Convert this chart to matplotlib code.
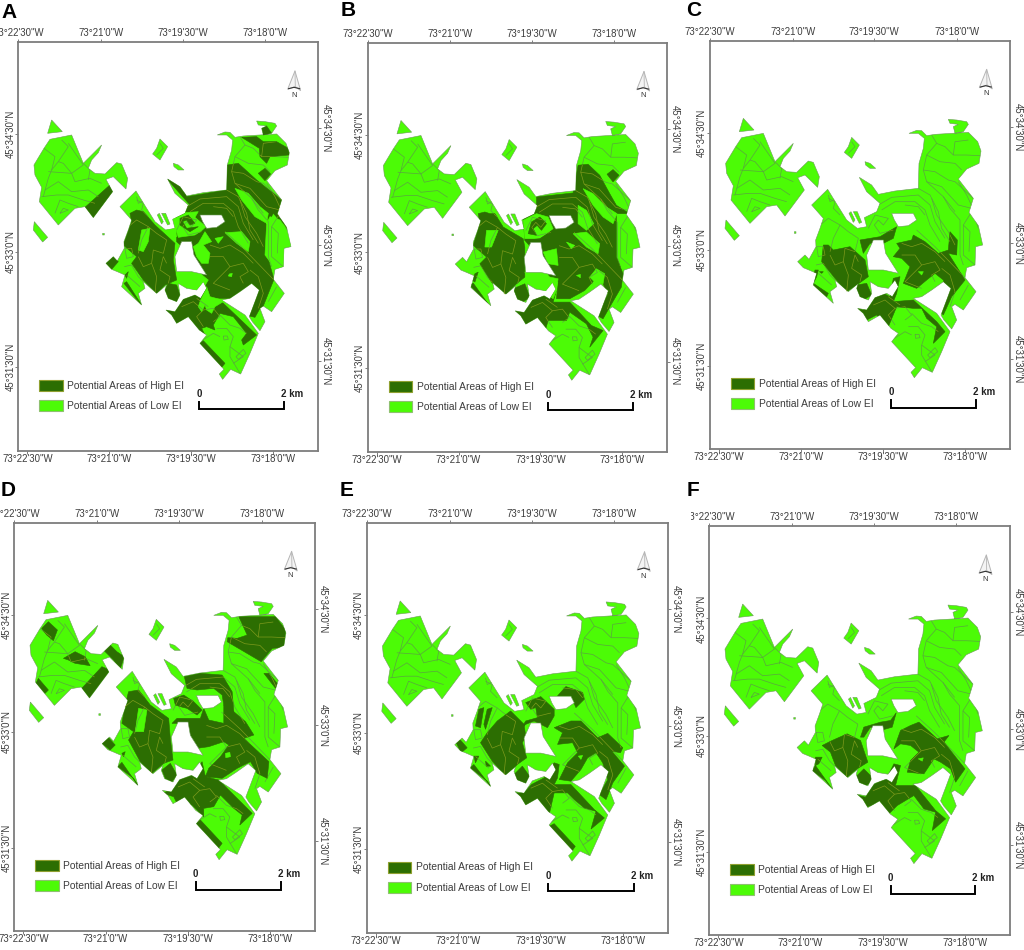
import matplotlib
matplotlib.use('Agg')
import matplotlib.pyplot as plt
from matplotlib.path import Path
from matplotlib.patches import PathPatch, Rectangle, Polygon
from matplotlib.collections import LineCollection
from matplotlib.transforms import Bbox

plt.rcParams['font.family'] = ['Liberation Sans', 'DejaVu Sans']

MAP_X = (55, 955)
MAP_Y = (1352, 127)
TOP_TICKS = [55, 303, 548, 795]
BOTTOM_TICKS = [82, 328, 574, 820]
LEFT_TICKS = [403, 755, 1102]
RIGHT_TICKS = [385, 735, 1082]
LON_LABELS = ['73°22\'30"W', '73°21\'0"W', '73°19\'30"W', '73°18\'0"W']
LAT_LABELS = ['45°34\'30"N', '45°33\'0"N', '45°31\'30"N']
LEGEND_LABELS = ['Potential Areas of High EI', 'Potential Areas of Low EI']
SCALE_LABELS = ['0', '2 km']

# forest parcels, same for all panels
BASE = [
    [(155, 360), (187, 395), (143, 400)],
    [(215, 405), (150, 418), (132, 445), (102, 495), (105, 525), (125, 562), (118, 605), (175, 675), (195, 655),
     (225, 625), (255, 620), (280, 653), (338, 575), (318, 538), (340, 530), (378, 567), (383, 535), (365, 492),
     (350, 488), (315, 522), (285, 520), (265, 505), (275, 480), (295, 458), (305, 435), (275, 465), (250, 490)],
    [(103, 665), (143, 712), (128, 726), (100, 690)],
    [(480, 417), (503, 440), (480, 480), (458, 462), (470, 445)],
    [(520, 490), (535, 495), (552, 510), (535, 510), (522, 500)],
    [(308, 700), (313, 700), (313, 705), (308, 705)],
    [(472, 645), (478, 640), (490, 665), (485, 672)],
    [(485, 640), (497, 640), (510, 672), (503, 675)],
    [(770, 363), (795, 365), (825, 370), (830, 378), (815, 400), (790, 405), (785, 385), (800, 378), (775, 375)],
    [(652, 405), (675, 396), (690, 397), (705, 412), (730, 408), (830, 402), (858, 430), (868, 458), (862, 495),
     (825, 512), (800, 542), (845, 600), (832, 642), (860, 682), (873, 740), (852, 745), (850, 800), (825, 808),
     (820, 838), (853, 880), (815, 935), (790, 918), (780, 925), (795, 965), (780, 992), (757, 965), (748, 950),
     (765, 905), (778, 870), (755, 850), (720, 875), (690, 895), (665, 900), (735, 945), (775, 1000), (750, 1060),
     (722, 1122), (692, 1108), (668, 1138), (658, 1122), (672, 1108), (600, 1030), (620, 1005), (598, 990),
     (565, 950), (530, 970), (515, 945), (498, 930), (525, 935), (550, 898), (585, 885), (602, 895), (620, 865),
     (610, 845), (590, 870), (560, 865), (535, 850), (540, 885), (530, 905), (505, 895), (495, 870), (500, 855),
     (470, 880), (430, 845), (435, 865), (415, 880), (425, 915), (365, 860), (375, 825), (352, 815), (335, 808),
     (318, 790), (340, 770), (352, 783), (373, 745), (372, 725), (385, 690), (395, 660), (360, 620), (408, 573),
     (440, 625), (465, 665), (497, 690), (525, 685), (518, 658), (555, 640), (565, 615), (525, 580), (503, 537),
     (540, 560), (560, 588), (610, 578), (680, 570), (682, 495), (695, 450), (698, 420), (680, 405)],
]
HOLES = [
    [(545, 725), (575, 725), (582, 765), (620, 825), (575, 815), (530, 815), (525, 770)],
    [(600, 645), (665, 645), (675, 665), (650, 682), (620, 685), (608, 665)],
]
BOUNDARIES = [
    [(132, 445), (165, 470), (155, 510), (145, 535), (130, 590)],
    [(185, 420), (205, 440), (175, 485), (155, 510)],
    [(205, 430), (250, 495), (215, 520), (190, 490), (175, 485)],
    [(145, 515), (215, 520), (225, 545), (270, 535), (305, 550)],
    [(135, 570), (175, 545), (215, 575), (265, 570), (295, 590)],
    [(125, 590), (170, 585), (205, 585), (250, 600), (285, 610)],
    [(165, 640), (180, 600), (205, 610), (235, 620)],
    [(180, 640), (205, 630), (190, 625), (180, 640)],
    [(250, 490), (270, 510), (265, 540)],
    [(480, 430), (490, 445), (470, 465)],
    [(720, 410), (735, 435), (705, 470), (695, 515), (705, 550), (755, 595), (790, 640)],
    [(735, 435), (760, 445), (785, 470), (790, 430), (830, 425)],
    [(785, 470), (825, 470), (866, 472)],
    [(705, 470), (745, 490), (790, 495), (810, 515)],
    [(695, 515), (730, 520), (770, 545), (790, 550), (845, 600)],
    [(705, 550), (750, 565), (800, 620), (840, 630), (860, 690)],
    [(755, 595), (775, 630), (805, 665), (805, 770), (815, 800)],
    [(720, 600), (735, 650), (770, 700), (790, 740)],
    [(680, 570), (715, 590), (740, 640), (750, 690), (775, 730)],
    [(840, 640), (815, 680), (815, 770), (850, 800)],
    [(815, 680), (835, 700), (832, 760)],
    [(800, 550), (825, 590), (840, 622)],
    [(560, 620), (600, 597), (680, 590), (715, 620), (730, 670), (760, 720)],
    [(570, 635), (610, 610), (670, 610), (700, 635), (715, 680), (745, 730)],
    [(640, 620), (680, 625), (700, 650)],
    [(675, 695), (730, 745), (820, 838)],
    [(630, 735), (660, 745), (690, 735), (730, 760), (760, 790)],
    [(630, 770), (670, 770), (690, 800), (660, 830), (640, 850), (690, 870)],
    [(690, 800), (730, 790), (745, 815), (720, 830), (730, 850)],
    [(750, 810), (775, 830), (790, 880), (775, 925)],
    [(805, 905), (830, 860)],
    [(530, 690), (550, 650), (590, 660), (575, 680), (560, 665), (548, 680), (565, 705), (605, 695)],
    [(385, 680), (410, 660), (445, 680), (425, 720), (415, 760)],
    [(445, 680), (470, 700), (500, 720), (490, 760), (460, 750), (455, 790), (430, 800), (415, 770)],
    [(455, 790), (470, 830), (465, 880)],
    [(500, 790), (490, 770), (480, 810), (510, 830), (505, 850)],
    [(410, 600), (430, 610), (425, 630), (445, 650)],
    [(410, 590), (415, 610), (435, 600)],
    [(375, 745), (395, 745), (400, 770), (380, 775), (375, 745)],
    [(373, 800), (395, 795), (415, 830), (430, 845)],
    [(380, 825), (420, 860)],
    [(545, 920), (580, 905), (610, 930), (590, 950), (610, 980)],
    [(610, 930), (640, 925), (660, 950), (640, 965)],
    [(590, 895), (625, 920)],
    [(600, 1025), (640, 1000), (660, 1010)],
    [(650, 985), (680, 985), (700, 1010), (690, 1040), (730, 1070), (700, 1090)],
    [(670, 1008), (682, 1008), (685, 1018), (672, 1020), (670, 1008)],
    [(708, 1070), (730, 1048), (738, 1060), (715, 1078), (708, 1070)],
    [(690, 1040), (690, 1070), (720, 1120)],
    [(660, 945), (690, 975), (720, 985), (740, 1000)],
]

# panel polygons are traced in the coordinates of each panel's own crop
HIGH_A = [
    [(332, 553), (340, 575), (280, 653), (255, 622)],
    [(725, 412), (770, 410), (790, 425), (830, 425), (865, 445), (868, 465), (810, 470), (800, 490), (780, 470),
     (778, 445)],
    [(775, 520), (795, 505), (812, 522), (795, 542)],
    [(785, 380), (800, 378), (815, 400), (790, 405)],
    [(495, 530), (545, 552), (560, 590), (680, 570), (682, 495), (715, 490), (770, 540), (845, 600), (835, 640),
     (860, 685), (820, 640), (803, 670), (803, 770), (822, 838), (790, 918), (780, 925), (765, 952), (748, 948),
     (778, 870), (755, 850), (690, 895), (628, 895), (610, 830), (580, 770), (530, 725), (530, 640), (570, 615)],
    [(390, 640), (410, 630), (430, 635), (465, 675), (525, 730), (520, 780), (530, 840), (495, 855), (470, 880),
     (430, 840), (395, 790), (410, 770), (370, 735), (395, 665)],
    [(495, 870), (505, 850), (530, 855), (540, 885), (530, 905), (505, 895)],
    [(340, 770), (355, 785), (335, 808), (318, 790)],
    [(372, 850), (380, 845), (425, 915), (405, 892)],
    [(375, 825), (385, 815), (380, 835)],
    [(498, 930), (525, 935), (550, 898), (585, 885), (602, 895), (618, 865), (628, 895), (665, 905), (770, 1005),
     (730, 1035), (725, 1020), (740, 1000), (700, 950), (660, 940), (640, 975), (645, 990), (620, 980), (605, 985),
     (615, 1005), (598, 990), (565, 950), (530, 970), (515, 945)],
    [(600, 1030), (610, 1022), (675, 1090), (660, 1108)],
]
LOW_A = [
    [(705, 565), (745, 580), (780, 620), (805, 640), (800, 670), (765, 650), (725, 600)],
    [(675, 698), (725, 695), (750, 725), (745, 755), (710, 730)],
    [(415, 750), (425, 690), (450, 685), (445, 725), (430, 755)],
    [(495, 680), (525, 685), (530, 710), (515, 715)],
    [(520, 655), (555, 638), (595, 635), (585, 652), (618, 680), (605, 692), (585, 705), (535, 712), (525, 680)],
    [(580, 740), (595, 730), (615, 695), (635, 725), (610, 735), (630, 760), (625, 790), (605, 790), (590, 770)],
    [(645, 715), (670, 710), (655, 730)],
    [(530, 810), (570, 820), (600, 820), (625, 840), (610, 865), (595, 875), (560, 860), (535, 850)],
    [(688, 822), (697, 820), (695, 830), (685, 828)],
    [(620, 860), (630, 890), (675, 902), (645, 920), (635, 940), (620, 930), (615, 915), (605, 935), (595, 920),
     (600, 905)],
    [(810, 650), (840, 660), (855, 680), (872, 735), (850, 742), (850, 800), (825, 805), (795, 765), (800, 670)],
]
TOP_A = [
    [(540, 655), (565, 645), (585, 670), (570, 675), (560, 660), (548, 665), (560, 685), (595, 680), (570, 695),
     (540, 675)],
]
HIGH_B = [
    [(802, 522), (820, 508), (838, 525), (820, 545)],
    [(590, 590), (700, 578), (715, 495), (745, 492), (780, 525), (810, 580), (830, 615), (870, 640), (830, 640),
     (830, 770), (850, 820), (845, 860), (810, 920), (790, 955), (772, 945), (805, 880), (790, 850), (765, 838),
     (735, 870), (690, 895), (650, 895), (655, 845), (630, 830), (600, 770), (555, 720), (550, 655), (590, 625)],
    [(415, 640), (435, 635), (450, 640), (465, 640), (490, 680), (550, 715), (555, 740), (555, 830), (530, 850),
     (495, 885), (455, 845), (420, 790), (440, 770), (400, 735), (420, 670)],
    [(520, 865), (555, 850), (570, 890), (545, 908), (530, 895)],
    [(390, 855), (400, 848), (448, 915), (440, 905)],
    [(405, 820), (415, 815), (405, 845), (398, 840)],
    [(522, 932), (550, 935), (575, 900), (610, 885), (630, 895), (650, 870), (640, 905), (690, 905), (755, 975),
     (790, 990), (750, 1040), (760, 1010), (740, 970), (690, 935), (680, 960), (625, 960), (615, 995), (575, 970),
     (550, 975)],
]
LOW_B = [
    [(730, 565), (760, 580), (800, 620), (832, 640), (820, 670), (790, 650), (760, 615)],
    [(715, 615), (740, 630), (762, 670), (740, 690), (715, 670)],
    [(700, 700), (740, 695), (780, 730), (775, 760), (740, 740)],
    [(440, 690), (475, 690), (455, 740), (435, 740)],
    [(550, 660), (590, 640), (625, 650), (640, 685), (600, 715), (555, 715)],
    [(610, 755), (650, 745), (655, 795), (625, 790)],
    [(555, 815), (605, 815), (630, 830), (655, 835), (650, 870), (640, 895), (610, 870), (570, 845)],
    [(750, 830), (770, 805), (795, 820), (790, 850), (765, 845)],
    [(680, 725), (705, 735), (695, 745)],
    [(710, 825), (722, 822), (722, 832)],
]
TOP_B = [
    [(575, 665), (600, 650), (620, 670), (605, 690), (592, 675), (580, 685), (590, 705), (565, 700)],
    [(555, 720), (600, 715), (640, 690), (645, 720), (610, 745), (580, 725)],
]
HIGH_C = [
    [(540, 720), (600, 710), (650, 680), (640, 715), (600, 735), (570, 730), (550, 760)],
    [(430, 735), (445, 735), (460, 750), (510, 740), (555, 780), (565, 830), (530, 855), (500, 875), (465, 835),
     (425, 785)],
    [(530, 855), (560, 850), (575, 885), (550, 900), (530, 885)],
    [(405, 810), (415, 810), (410, 830), (400, 850), (445, 880), (440, 890), (395, 855)],
    [(418, 815), (430, 815), (425, 820)],
    [(530, 925), (550, 930), (575, 895), (610, 880), (630, 890), (640, 835), (660, 830), (650, 880), (640, 905),
     (700, 900), (770, 965), (795, 995), (760, 1030), (770, 980), (740, 955), (725, 925), (700, 925), (650, 920),
     (625, 980), (590, 945), (550, 965)],
    [(650, 730), (695, 720), (700, 705), (735, 725), (775, 760), (805, 750), (810, 695), (832, 720), (830, 765),
     (805, 760), (855, 840), (815, 890), (790, 945), (780, 935), (800, 885), (790, 840), (765, 820), (740, 840),
     (710, 865), (670, 850), (690, 800), (665, 775), (640, 770), (660, 745)],
]
LOW_C = [
    [(715, 815), (730, 815), (725, 825)],
]
HIGH_D = [
    [(125, 460), (145, 440), (172, 465), (160, 497), (140, 480)],
    [(190, 550), (225, 530), (255, 545), (270, 572), (225, 565), (205, 555)],
    [(305, 520), (330, 510), (350, 530), (372, 545), (360, 582), (340, 555)],
    [(305, 575), (330, 585), (268, 668), (245, 640)],
    [(108, 625), (115, 610), (145, 645), (135, 655)],
    [(715, 425), (825, 425), (855, 465), (850, 517), (815, 520), (782, 560), (680, 500), (682, 488), (710, 490),
     (740, 480)],
    [(790, 595), (805, 595), (830, 625), (825, 640)],
    [(552, 605), (600, 595), (665, 600), (695, 650), (700, 710), (670, 690), (665, 660), (640, 640), (590, 645),
     (560, 640)],
    [(515, 745), (530, 730), (600, 730), (610, 700), (625, 735), (670, 745), (670, 690), (700, 710), (735, 740),
     (760, 780), (730, 790), (805, 860), (800, 910), (770, 895), (750, 860), (710, 880), (665, 910), (615, 905),
     (625, 880), (660, 845), (685, 810), (670, 800), (625, 815), (590, 820), (565, 770), (550, 745)],
    [(520, 670), (550, 660), (580, 680), (605, 705), (590, 720), (560, 700), (540, 695), (525, 690)],
    [(385, 650), (415, 645), (450, 690), (505, 730), (510, 790), (518, 855), (490, 865), (455, 895), (420, 860),
     (385, 795), (400, 770), (365, 745), (375, 690)],
    [(485, 885), (510, 865), (530, 900), (515, 920), (495, 910)],
    [(305, 805), (325, 788), (345, 810), (330, 825)],
    [(353, 875), (365, 862), (412, 930), (400, 910)],
    [(365, 835), (375, 830), (370, 845)],
    [(487, 955), (510, 945), (535, 915), (580, 900), (605, 860), (615, 905), (655, 915), (725, 985), (755, 1015),
     (718, 1050), (725, 1020), (700, 1000), (660, 960), (640, 995), (610, 1000), (610, 1025), (575, 990), (530, 985),
     (520, 965)],
    [(587, 1045), (600, 1035), (665, 1105), (650, 1125)],
]
LOW_D = [
    [(415, 700), (440, 705), (430, 770), (405, 770)],
    [(675, 835), (688, 832), (690, 845), (676, 848)],
]
HIGH_E = [
    [(405, 750), (415, 700), (430, 695), (420, 755)],
    [(440, 700), (455, 695), (435, 760), (430, 745)],
    [(470, 735), (510, 705), (550, 745), (555, 780), (545, 800), (558, 845), (530, 865), (495, 900), (455, 855),
     (420, 800), (440, 770)],
    [(520, 895), (545, 870), (570, 905), (555, 925), (535, 920)],
    [(345, 795), (360, 792), (380, 815), (362, 830)],
    [(390, 875), (400, 865), (450, 930), (440, 915)],
    [(400, 840), (415, 840), (405, 860)],
    [(435, 855), (450, 870), (437, 870)],
    [(525, 950), (550, 950), (572, 925), (610, 905), (640, 860), (655, 865), (650, 905), (640, 925), (690, 925),
     (760, 1000), (790, 1025), (750, 1058), (765, 1005), (730, 995), (700, 970), (680, 950), (640, 950), (625, 1015),
     (590, 985), (550, 990)],
    [(625, 1050), (640, 1042), (703, 1110), (690, 1128)],
    [(555, 680), (600, 662), (640, 700), (640, 720), (620, 755), (580, 735), (555, 745), (540, 760), (555, 735),
     (590, 725), (585, 695), (570, 700)],
    [(650, 660), (675, 632), (725, 650), (730, 670), (705, 695), (690, 660)],
    [(640, 755), (690, 735), (720, 735), (770, 785), (800, 772), (845, 815), (838, 830), (812, 825), (850, 870),
     (815, 920), (795, 970), (775, 955), (800, 910), (785, 860), (765, 830), (740, 845), (720, 880), (690, 915),
     (655, 910), (680, 860), (710, 830), (695, 800), (650, 805), (665, 770)],
]
LOW_E = [
    [(712, 840), (725, 838), (720, 850)],
]
HIGH_F = [
    [(530, 785), (540, 755), (590, 740), (620, 735), (637, 712), (625, 755), (590, 765), (560, 755), (540, 785)],
    [(415, 810), (445, 795), (490, 775), (530, 795), (552, 860), (520, 880), (490, 905), (455, 870), (440, 830)],
    [(515, 905), (540, 880), (565, 905), (555, 925), (535, 935)],
    [(395, 845), (415, 845), (405, 865), (395, 870)],
    [(385, 885), (395, 870), (445, 940), (425, 915)],
    [(518, 958), (545, 965), (565, 930), (610, 905), (630, 865), (650, 870), (635, 930), (695, 930), (755, 1005),
     (785, 1030), (745, 1065), (755, 1010), (720, 1000), (690, 960), (640, 990), (615, 1015), (580, 985), (545, 995)],
    [(630, 820), (650, 765), (680, 750), (705, 740), (760, 790), (795, 780), (780, 800), (843, 880), (815, 920),
     (800, 880), (770, 860), (750, 850), (720, 895), (670, 890), (680, 855), (705, 830), (680, 810), (650, 805)],
]
LOW_F = [
    [(703, 850), (718, 847), (715, 857)],
]

HIGH_COLOR = '#2c6e02'
LOW_COLOR = '#4cfb06'
LINE_LOW = '#5aa540'
LINE_HIGH = '#7d9a1c'
FRAME = '#7d7d7d'
TEXT = '#3c3c3c'
TICK_SIZE = 6.9


def to_path(polys):
    verts = []
    codes = []
    for poly in polys:
        # same winding everywhere or overlaps would cancel when clipping
        area = sum(poly[i][0] * poly[(i + 1) % len(poly)][1] - poly[(i + 1) % len(poly)][0] * poly[i][1]
                   for i in range(len(poly)))
        pts = poly if area > 0 else poly[::-1]
        verts += list(pts) + [pts[0]]
        codes += [Path.MOVETO] + [Path.LINETO] * (len(pts) - 1) + [Path.CLOSEPOLY]
    return Path(verts, codes)


def shift(polys, origin):
    # crop coordinates -> map units of panel A
    dx = origin[0] - MAP_X[0]
    dy = origin[1] - MAP_Y[1]
    return [[(x - dx, y - dy) for x, y in p] for p in polys]


def add_layer(ax, polys, face, line, base_path, edge):
    path = to_path(polys)
    patch = PathPatch(path, facecolor=face, edgecolor=edge, linewidth=0.4, zorder=2)
    ax.add_patch(patch)
    if base_path is not None:
        patch.set_clip_path(base_path, ax.transData)
    lc = LineCollection(BOUNDARIES, colors=line, linewidths=0.5, zorder=2)
    ax.add_collection(lc)
    lc.set_clip_path(path, ax.transData)


def draw_panel(fig, letter, box, origin, high, low, top, letter_xy, clip_left=None):
    x0, y0, x1, y1 = box
    ax = fig.add_axes([x0 / 1024, 1 - y1 / 950, (x1 - x0) / 1024, (y1 - y0) / 950])
    ax.set_xlim(MAP_X)
    ax.set_ylim(MAP_Y)
    for s in ax.spines.values():
        s.set_color(FRAME)
        s.set_linewidth(1.3)

    base_path = to_path(BASE)
    add_layer(ax, BASE, LOW_COLOR, LINE_LOW, None, '#6d9a5a')
    add_layer(ax, shift(high, origin), HIGH_COLOR, LINE_HIGH, base_path, HIGH_COLOR)
    if low:
        add_layer(ax, shift(low, origin), LOW_COLOR, LINE_LOW, base_path, LOW_COLOR)
    if top:
        add_layer(ax, shift(top, origin), HIGH_COLOR, LINE_HIGH, base_path, HIGH_COLOR)
    for hole in HOLES:
        ax.add_patch(Polygon(hole, facecolor='white', edgecolor='#6d9a5a', linewidth=0.4, zorder=3))

    # graticule ticks, the grid is tilted so the four sides differ
    ax.set_xticks(BOTTOM_TICKS, LON_LABELS)
    ax.set_yticks(LEFT_TICKS, LAT_LABELS)
    ax.tick_params(axis='x', length=2, width=0.7, color=FRAME, labelsize=TICK_SIZE, labelcolor=TEXT, pad=0.5)
    ax.tick_params(axis='y', length=2, width=0.7, color=FRAME, labelsize=TICK_SIZE, labelcolor=TEXT, pad=0)
    for t in ax.get_yticklabels():
        t.set_rotation(90)
        t.set_va('center')
    topax = ax.secondary_xaxis('top')
    topax.set_xticks(TOP_TICKS, LON_LABELS)
    topax.tick_params(length=2, width=0.7, color=FRAME, labelsize=TICK_SIZE, labelcolor=TEXT, pad=1)
    rightax = ax.secondary_yaxis('right')
    rightax.set_yticks(RIGHT_TICKS, LAT_LABELS)
    rightax.tick_params(length=2, width=0.7, color=FRAME, labelsize=TICK_SIZE, labelcolor=TEXT, pad=0)
    for t in rightax.get_yticklabels():
        t.set_rotation(-90)
        t.set_va('center')
    for side in (topax, rightax):
        for s in side.spines.values():
            s.set_visible(False)
    if clip_left is not None:
        # the first label is cut by the neighbouring panel's crop
        lab = topax.get_xticklabels()[0]
        lab.set_clip_box(Bbox([[clip_left, 0], [1024, 950]]))
        lab.set_clip_on(True)

    # legend
    ax.add_patch(Rectangle((118, 1140), 70, 33, facecolor=HIGH_COLOR, edgecolor='#8fa030', linewidth=0.8, zorder=3))
    ax.add_patch(Rectangle((118, 1199), 70, 34, facecolor=LOW_COLOR, edgecolor='#8fc070', linewidth=0.8, zorder=3))
    ax.text(202, 1157, LEGEND_LABELS[0], fontsize=7.35, color=TEXT, va='center', ha='left')
    ax.text(202, 1217, LEGEND_LABELS[1], fontsize=7.35, color=TEXT, va='center', ha='left')

    # scale bar
    ax.plot([598, 598, 852, 852], [1205, 1228, 1228, 1205], color='black', linewidth=1.4, solid_joinstyle='miter')
    ax.text(598, 1181, SCALE_LABELS[0], fontsize=7, fontweight='bold', color='#222222', ha='center', va='center')
    ax.text(843, 1181, SCALE_LABELS[1], fontsize=7, fontweight='bold', color='#222222', ha='left', va='center')

    # north arrow
    ax.add_patch(Polygon([(885, 213), (863, 268), (886, 260), (902, 272)], facecolor='#f4f4f4', edgecolor='#b5b5b5',
                         linewidth=0.7))
    ax.plot([885, 886], [213, 260], color='#b5b5b5', linewidth=0.6)
    ax.plot([866, 882, 899], [266, 262, 266], color='#333333', linewidth=0.8)
    ax.text(882, 286, 'N', fontsize=5.5, color='#333333', ha='center', va='center')

    fig.text(letter_xy[0] / 1024, 1 - letter_xy[1] / 950, letter, fontsize=15, fontweight='bold', color='black',
             ha='left', va='center')
    return ax


fig = plt.figure(figsize=(10.24, 9.5), dpi=100)
draw_panel(fig, 'A', (18.3, 42.3, 318.3, 450.7), (55, 127), HIGH_A, LOW_A, TOP_A, (1, 12))
draw_panel(fig, 'B', (367.7, 42.7, 667.3, 451.7), (83, 128), HIGH_B, LOW_B, TOP_B, (341, 11))
draw_panel(fig, 'C', (710, 40.7, 1010, 449), (90, 122), HIGH_C, LOW_C, None, (686, 11))
draw_panel(fig, 'D', (14.3, 522.7, 315, 931), (43, 143), HIGH_D, LOW_D, None, (1, 490))
draw_panel(fig, 'E', (366.7, 523, 668, 932.7), (80, 143), HIGH_E, LOW_E, None, (340, 490))
draw_panel(fig, 'F', (709.3, 526.3, 1009.7, 935), (77, 153), HIGH_F, LOW_F, None, (687, 490), clip_left=691)

fig.savefig('out.png', dpi=100)
